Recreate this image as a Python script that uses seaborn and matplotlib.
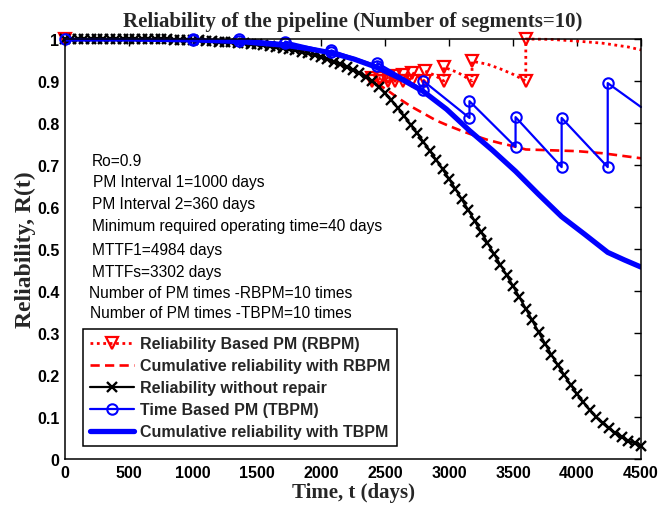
import matplotlib
matplotlib.use("Agg")
import matplotlib.pyplot as plt
import seaborn as sns
import pandas as pd

# ---------------- data ----------------
t_grid = list(range(0, 4501, 50))
r_no_repair = [
    1.000, 1.000, 1.000, 1.000, 1.000, 1.000, 1.000, 1.000, 1.000, 1.000,
    1.000, 1.000, 0.999, 0.999, 0.999, 0.999, 0.999, 0.998, 0.998, 0.998,
    0.997, 0.997, 0.996, 0.995, 0.994, 0.993, 0.992, 0.991, 0.990, 0.988,
    0.987, 0.985, 0.983, 0.981, 0.978, 0.976, 0.973, 0.969, 0.966, 0.962,
    0.957, 0.952, 0.946, 0.940, 0.933, 0.926, 0.918, 0.909, 0.900, 0.886,
    0.871, 0.854, 0.836, 0.816, 0.796, 0.776, 0.755, 0.734, 0.712, 0.690,
    0.667, 0.643, 0.618, 0.593, 0.567, 0.541, 0.515, 0.489, 0.463, 0.438,
    0.412, 0.385, 0.358, 0.330, 0.302, 0.275, 0.248, 0.224, 0.200, 0.177,
    0.155, 0.135, 0.116, 0.100, 0.085, 0.073, 0.062, 0.052, 0.044, 0.037,
    0.030,
]

rbpm_pm_times = [2400, 2460, 2520, 2580, 2640, 2710, 2810, 2960, 3180, 3600]
rbpm_t = [0, 500, 1000, 1500, 1800, 2000, 2200, 2300, 2400,
          2400, 2460, 2460, 2520, 2520, 2580, 2580, 2640, 2640, 2710,
          2710, 2810, 2810, 2885, 2960, 2960, 3070, 3180, 3180, 3300,
          3400, 3500, 3600, 3600, 3800, 4000, 4200, 4400, 4500]
rbpm_r = [1.000, 1.000, 0.997, 0.987, 0.973, 0.957, 0.933, 0.918, 0.900,
          0.906, 0.900, 0.908, 0.900, 0.910, 0.900, 0.912, 0.900, 0.915, 0.900,
          0.920, 0.900, 0.924, 0.914, 0.900, 0.933, 0.920, 0.900, 0.947, 0.940,
          0.929, 0.916, 0.900, 1.000, 0.999, 0.995, 0.990, 0.981, 0.974]

cum_rbpm_t = [0, 500, 1000, 1500, 1800, 2000, 2200, 2300, 2400, 2500, 2600,
              2700, 2800, 2900, 3000, 3100, 3200, 3300, 3400, 3500, 3600,
              3800, 4000, 4200, 4400, 4500]
cum_rbpm_r = [1.000, 1.000, 0.997, 0.987, 0.973, 0.957, 0.933, 0.918, 0.900,
              0.882, 0.860, 0.840, 0.823, 0.806, 0.793, 0.781, 0.770, 0.760,
              0.752, 0.745, 0.737, 0.735, 0.733, 0.728, 0.720, 0.716]

tbpm_t = [0, 1000, 1000, 1360, 1360, 1720, 1720, 2080, 2080, 2440, 2440,
          2800, 2800, 3160, 3160, 3520, 3520, 3880, 3880, 4240, 4240, 4500]
tbpm_r = [1.000, 0.998, 1.000, 0.996, 0.999, 0.990, 0.994, 0.968, 0.973,
          0.936, 0.943, 0.879, 0.900, 0.812, 0.852, 0.743, 0.814, 0.695,
          0.812, 0.695, 0.895, 0.838]

cum_tbpm_t = [0, 500, 1000, 1360, 1720, 1900, 2080, 2260, 2440, 2620, 2800,
              2980, 3160, 3340, 3520, 3700, 3880, 4060, 4240, 4370, 4500]
cum_tbpm_r = [1.000, 1.000, 0.998, 0.994, 0.985, 0.977, 0.967, 0.952, 0.932,
              0.906, 0.875, 0.833, 0.782, 0.735, 0.685, 0.630, 0.577, 0.535,
              0.492, 0.474, 0.457]

series_labels = ["Reliability Based PM (RBPM)",
                 "Cumulative reliability with RBPM",
                 "Reliability without repair",
                 "Time Based PM (TBPM)",
                 "Cumulative reliability with TBPM"]

notes = ["Ro=0.9",
         "PM Interval 1=1000 days",
         "PM Interval 2=360 days",
         "Minimum required operating time=40 days",
         "MTTF1=4984 days",
         "MTTFs=3302 days",
         "Number of PM times -RBPM=10 times",
         "Number of PM times -TBPM=10 times"]

x_ticks = [0, 500, 1000, 1500, 2000, 2500, 3000, 3500, 4000, 4500]
y_ticks = [0, 0.1, 0.2, 0.3, 0.4, 0.5, 0.6, 0.7, 0.8, 0.9, 1]
y_tick_labels = ["0", "0.1", "0.2", "0.3", "0.4", "0.5", "0.6", "0.7", "0.8", "0.9", "1"]

title = "Reliability of the pipeline (Number of segments=10)"
xlabel = "Time, t (days)"
ylabel = "Reliability, R(t)"

# ---------------- styling ----------------
sns.set_style("white")
plt.rcParams["font.family"] = ["Liberation Sans", "DejaVu Sans"]
serif = ["Liberation Serif", "DejaVu Serif"]

W, H = 659, 506
fig = plt.figure(figsize=(W / 100, H / 100), dpi=100)
ax = fig.add_axes([65 / W, 1 - 460 / H, 576 / W, 420 / H])

RED, BLUE = "#FF0000", "#0000FF"

# RBPM sawtooth (markers only at t=0 and PM points)
rb_df = pd.DataFrame({"t": rbpm_t, "r": rbpm_r})
mk_idx = [i for i, t in enumerate(rbpm_t) if t == 0 or t in rbpm_pm_times]
sns.lineplot(data=rb_df, x="t", y="r", ax=ax, estimator=None, sort=False,
             color=RED, linestyle=(0, (1, 1.3)), linewidth=2.0,
             marker="v", markersize=9, markerfacecolor="none",
             markeredgecolor=RED, markeredgewidth=1.6, markevery=mk_idx,
             label=series_labels[0], clip_on=False, legend=False)

sns.lineplot(x=cum_rbpm_t, y=cum_rbpm_r, ax=ax, estimator=None, sort=False,
             color=RED, linestyle=(0, (3.5, 2)), linewidth=1.9,
             label=series_labels[1], legend=False)

sns.lineplot(x=t_grid, y=r_no_repair, ax=ax, estimator=None, sort=False,
             color="black", linewidth=1.6, marker="x", markersize=6.5,
             markeredgecolor="black", markeredgewidth=1.7,
             label=series_labels[2], clip_on=False, legend=False)

sns.lineplot(x=tbpm_t, y=tbpm_r, ax=ax, estimator=None, sort=False,
             color=BLUE, linewidth=1.6, marker="o", markersize=7.5,
             markerfacecolor="none", markeredgecolor=BLUE, markeredgewidth=1.5,
             markevery=list(range(len(tbpm_t) - 1)),
             label=series_labels[3], clip_on=False, legend=False)

sns.lineplot(x=cum_tbpm_t, y=cum_tbpm_r, ax=ax, estimator=None, sort=False,
             color=BLUE, linewidth=3.8, label=series_labels[4], legend=False)

ax.set_xlim(0, 4500)
ax.set_ylim(0, 1)
ax.set_xticks(x_ticks)
ax.set_xticklabels([str(v) for v in x_ticks])
ax.set_yticks(y_ticks)
ax.set_yticklabels(y_tick_labels)
ax.tick_params(direction="in", length=5, width=1, top=True, right=True,
               labelsize=11.5, pad=4, colors="black")
for lab in ax.get_xticklabels() + ax.get_yticklabels():
    lab.set_fontweight("bold")
for sp in ax.spines.values():
    sp.set_visible(True)
    sp.set_color("black")
    sp.set_linewidth(1.1)

ax.set_title(title, fontfamily=serif, fontweight="bold", fontsize=15, pad=9)
ax.set_xlabel(xlabel, fontfamily=serif, fontweight="bold", fontsize=15, labelpad=2)
ax.set_ylabel(ylabel, fontfamily=serif, fontweight="bold", fontsize=17, labelpad=1)

# notes
note_px = [(92, 162), (93, 183), (92, 205), (92, 227), (92, 250), (92, 272),
           (89, 294), (90, 314)]
for txt, (px, py) in zip(notes, note_px):
    ax.text((px - 65) / 576, (460 - py) / 420, txt, transform=ax.transAxes,
            fontsize=11.2, va="center", ha="left", color="black")

handles, labels = ax.get_legend_handles_labels()
leg = ax.legend(handles, labels, loc="lower left", bbox_to_anchor=(0.031, 0.031),
                borderaxespad=0, frameon=True, fancybox=False, framealpha=1,
                edgecolor="black", numpoints=1, handlelength=2.8,
                handletextpad=0.35, labelspacing=0.44, borderpad=0.42,
                prop={"weight": "bold", "size": 11.5})
leg.get_frame().set_linewidth(1.1)

fig.savefig("out.png", dpi=100)
